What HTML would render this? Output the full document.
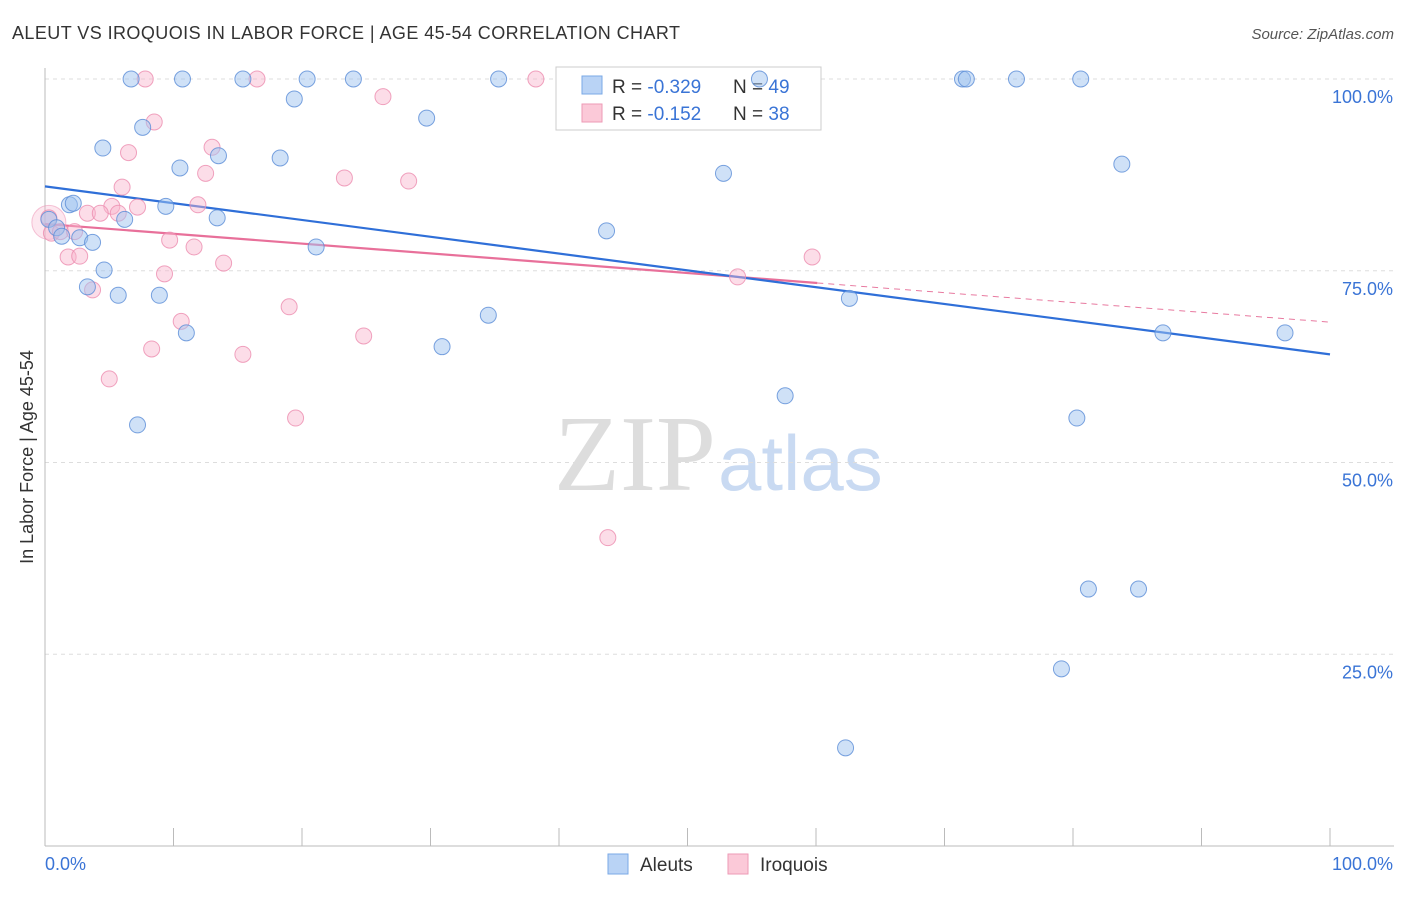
<!DOCTYPE html>
<html><head><meta charset="utf-8">
<style>
html,body{margin:0;padding:0;background:#fff;}
body{width:1406px;height:892px;overflow:hidden;font-family:"Liberation Sans",sans-serif;}
</style></head>
<body>
<svg id="chart" width="1406" height="892" xmlns="http://www.w3.org/2000/svg" font-family="Liberation Sans, sans-serif">
<text x="12" y="39" font-size="18" fill="#333" textLength="668" lengthAdjust="spacing">ALEUT VS IROQUOIS IN LABOR FORCE | AGE 45-54 CORRELATION CHART</text>
<text x="1394" y="39" font-size="15" fill="#555" text-anchor="end" font-style="italic">Source: ZipAtlas.com</text>
<text transform="translate(33,457) rotate(-90)" font-size="18" fill="#333" text-anchor="middle">In Labor Force | Age 45-54</text>
<text x="716" y="490" font-size="108" text-anchor="end" fill="#ddd" font-family="Liberation Serif, serif">ZIP</text>
<text x="718" y="490" font-size="78" fill="#c9daf2">atlas</text>
<g id="grid"></g>
<g>
<rect x="556" y="67" width="265" height="63" fill="#fff" stroke="#ccc"/>
<rect x="582" y="76" width="20" height="18" fill="#b9d3f5" stroke="#7aa8e6"/>
<rect x="582" y="104" width="20" height="18" fill="#fbc9d8" stroke="#ee9ab6"/>
<text x="612" y="93" font-size="19" fill="#333">R = <tspan fill="#3a74d6">-0.329</tspan></text>
<text x="733" y="93" font-size="19" fill="#333">N = <tspan fill="#3a74d6">49</tspan></text>
<text x="612" y="120" font-size="19" fill="#333">R = <tspan fill="#3a74d6"> -0.152</tspan></text>
<text x="733" y="120" font-size="19" fill="#333">N = <tspan fill="#3a74d6">38</tspan></text>
</g>
<g id="lines"></g>
<g id="points"></g>
<g>
<rect x="608" y="854" width="20" height="20" fill="#b9d3f5" stroke="#7aa8e6"/>
<text x="640" y="871" font-size="19" fill="#333">Aleuts</text>
<rect x="728" y="854" width="20" height="20" fill="#fbc9d8" stroke="#ee9ab6"/>
<text x="760" y="871" font-size="19" fill="#333">Iroquois</text>
</g>
</svg>
<script>
const yTicks=[25,50,75,100];
const yTickLabels=["25.0%","50.0%","75.0%","100.0%"];
const xTicks=[0,10,20,30,40,50,60,70,80,90,100];
const aleutX=[6.7,10.7,15.4,20.4,24.0,35.3,55.6,71.4,71.7,75.6,80.6,19.4,29.7,7.6,4.5,10.5,13.5,18.3,52.8,83.8,0.3,1.9,2.2,0.9,1.3,2.7,3.7,6.2,9.4,13.4,21.1,43.7,4.6,3.3,5.7,8.9,11.0,34.5,30.9,62.6,87.0,96.5,7.2,57.6,80.3,81.2,85.1,79.1,62.3];
const aleutY=[100,100,100,100,100,100,100,100,100,100,100,97.4,94.9,93.7,91.0,88.4,90.0,89.7,87.7,88.9,81.7,83.6,83.8,80.6,79.5,79.3,78.7,81.7,83.4,81.9,78.1,80.2,75.1,72.9,71.8,71.8,66.9,69.2,65.1,71.4,66.9,66.9,54.9,58.7,55.8,33.5,33.5,23.1,12.8];
const iroqX=[7.8,16.5,38.2,8.5,26.3,6.5,13.0,12.5,23.3,28.3,6.0,5.2,7.2,11.9,3.3,4.3,5.7,0.3,0.5,1.2,2.3,9.7,11.6,1.8,2.7,13.9,9.3,3.7,19.0,10.6,24.8,8.3,15.4,5.0,19.5,43.8,53.9,59.7];
const iroqY=[100,100,100,94.4,97.7,90.4,91.1,87.7,87.1,86.7,85.9,83.4,83.3,83.6,82.5,82.5,82.5,81.9,79.9,80.1,80.1,79.0,78.1,76.8,76.9,76.0,74.6,72.5,70.3,68.4,66.5,64.8,64.1,60.9,55.8,40.2,74.2,76.8];
const aleutTrend=[86.0,64.1];
const iroqTrend=[81.1,68.3];
const iroqSolidEnd=60.1;

const NS="http://www.w3.org/2000/svg";
const X=v=>45+v*12.85;
const Y=v=>846-v*7.67;
function mk(tag,attrs,parent){const e=document.createElementNS(NS,tag);for(const k in attrs)e.setAttribute(k,attrs[k]);parent.appendChild(e);return e;}
const grid=document.getElementById('grid'),lines=document.getElementById('lines'),pts=document.getElementById('points');
yTicks.forEach((t,i)=>{
 const l=mk('line',{x1:45,x2:1394,y1:Y(t),y2:Y(t),stroke:'#ddd','stroke-dasharray':'4,4'},grid);
 
 
 const tx=mk('text',{x:1393,y:Y(t)+24,'font-size':18,fill:'#3a74d6','text-anchor':'end'},grid);
 tx.textContent=yTickLabels[i];
 
 
});
const ax=mk('line',{x1:45,x2:45,y1:68,y2:846,stroke:'#bbb'},grid);


const bx=mk('line',{x1:45,x2:1394,y1:846,y2:846,stroke:'#bbb'},grid);


xTicks.forEach(t=>{
 const l=mk('line',{x1:X(t),x2:X(t),y1:828,y2:846,stroke:'#bbb'},grid);
 
 
});
const xl0=mk('text',{x:45,y:870,'font-size':18,fill:'#3a74d6'},grid);xl0.textContent='0.0%';


const xl1=mk('text',{x:1393,y:870,'font-size':18,fill:'#3a74d6','text-anchor':'end'},grid);xl1.textContent='100.0%';



const bb=mk('circle',{cx:X(0.3),cy:Y(81.3),r:17,fill:'rgba(246,160,190,0.25)',stroke:'rgba(236,140,175,0.5)'},pts);


iroqX.forEach((x,i)=>{
 const c=mk('circle',{cx:X(x),cy:Y(iroqY[i]),r:8,fill:'rgba(248,180,204,0.45)',stroke:'rgba(236,140,175,0.8)'},pts);
 
 
});
aleutX.forEach((x,i)=>{
 const c=mk('circle',{cx:X(x),cy:Y(aleutY[i]),r:8,fill:'rgba(160,196,240,0.5)',stroke:'rgba(90,140,215,0.8)'},pts);
 
 
});
const iy=x=>iroqTrend[0]+(iroqTrend[1]-iroqTrend[0])*x/100;
const pd=mk('line',{x1:X(iroqSolidEnd),y1:Y(iy(iroqSolidEnd)),x2:X(100),y2:Y(iroqTrend[1]),stroke:'#e87aa0','stroke-width':1,'stroke-dasharray':'6,5'},lines);


const ps=mk('line',{x1:X(0),y1:Y(iroqTrend[0]),x2:X(iroqSolidEnd),y2:Y(iy(iroqSolidEnd)),stroke:'#e8709a','stroke-width':2.2},lines);


const bl=mk('line',{x1:X(0),y1:Y(aleutTrend[0]),x2:X(100),y2:Y(aleutTrend[1]),stroke:'#2f6fd8','stroke-width':2.2},lines);


</script>
</body></html>
